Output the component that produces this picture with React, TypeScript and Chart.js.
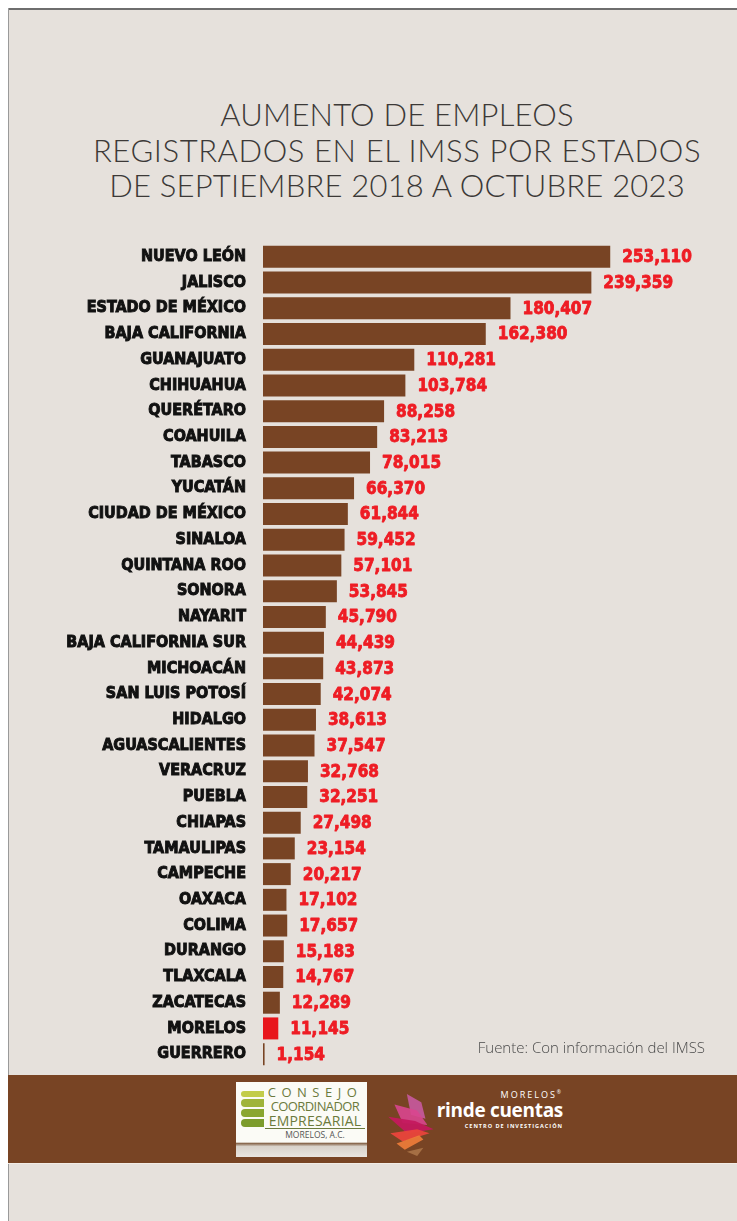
import React, { useEffect, useRef } from "react";
import { Chart, registerables } from "chart.js";

Chart.register(...registerables);

const states = [
  "NUEVO LEÓN", "JALISCO", "ESTADO DE MÉXICO", "BAJA CALIFORNIA", "GUANAJUATO",
  "CHIHUAHUA", "QUERÉTARO", "COAHUILA", "TABASCO", "YUCATÁN",
  "CIUDAD DE MÉXICO", "SINALOA", "QUINTANA ROO", "SONORA", "NAYARIT",
  "BAJA CALIFORNIA SUR", "MICHOACÁN", "SAN LUIS POTOSÍ", "HIDALGO", "AGUASCALIENTES",
  "VERACRUZ", "PUEBLA", "CHIAPAS", "TAMAULIPAS", "CAMPECHE",
  "OAXACA", "COLIMA", "DURANGO", "TLAXCALA", "ZACATECAS",
  "MORELOS", "GUERRERO",
];

const empleos = [
  253110, 239359, 180407, 162380, 110281,
  103784, 88258, 83213, 78015, 66370,
  61844, 59452, 57101, 53845, 45790,
  44439, 43873, 42074, 38613, 37547,
  32768, 32251, 27498, 23154, 20217,
  17102, 17657, 15183, 14767, 12289,
  11145, 1154,
];

const highlighted = "MORELOS";

const titleLines = [
  "AUMENTO DE EMPLEOS",
  "REGISTRADOS EN EL IMSS POR ESTADOS",
  "DE SEPTIEMBRE 2018 A OCTUBRE 2023",
];

const sourceText = "Fuente: Con información del IMSS";

const BROWN = "#784424";
const RED = "#ee1c24";
const BAR_RED = "#e8161c";

const valueLabelPlugin = {
  id: "valueLabels",
  afterDatasetsDraw(chart: any) {
    const ctx = chart.ctx;
    const meta = chart.getDatasetMeta(0);
    ctx.save();
    ctx.font = "bold 17px 'DejaVu Sans Condensed', 'DejaVu Sans', sans-serif";
    ctx.fillStyle = RED;
    ctx.strokeStyle = RED;
    ctx.lineWidth = 0.8;
    ctx.lineJoin = "round";
    ctx.textAlign = "left";
    ctx.textBaseline = "middle";
    meta.data.forEach((el: any, i: number) => {
      const v = chart.data.datasets[0].data[i] as number;
      const t = v.toLocaleString("en-US");
      ctx.strokeText(t, el.x + 12, el.y + 1);
      ctx.fillText(t, el.x + 12, el.y + 1);
    });
    ctx.restore();
  },
};

function BarChart() {
  const ref = useRef<HTMLCanvasElement | null>(null);
  useEffect(() => {
    if (!ref.current) return;
    const chart = new Chart(ref.current, {
      type: "bar",
      data: {
        labels: states,
        datasets: [
          {
            data: empleos,
            backgroundColor: states.map((s) => (s === highlighted ? BAR_RED : BROWN)),
            borderWidth: 0,
            barPercentage: 0.855,
            categoryPercentage: 1,
          },
        ],
      },
      options: {
        responsive: false,
        animation: false,
        indexAxis: "y",
        layout: { padding: { top: 236, bottom: 8, left: 0, right: 35 } },
        plugins: {
          legend: { display: false },
          tooltip: { enabled: false },
          title: { display: false },
        },
        scales: {
          x: { display: false, min: 0, max: 320000 },
          y: {
            grid: { display: false, drawTicks: false },
            border: { display: false },
            ticks: {
              padding: 17,
              color: "#111111",
              textStrokeColor: "#111111",
              textStrokeWidth: 0.9,
              font: {
                family: "'DejaVu Sans Condensed', 'DejaVu Sans', sans-serif",
                weight: "bold",
                size: 16,
              },
            },
            afterFit: (s: any) => {
              s.width = 255;
              s.paddingTop = 0;
              s.paddingBottom = 0;
            },
          },
        },
      },
      plugins: [valueLabelPlugin],
    } as any);
    return () => chart.destroy();
  }, []);
  return (
    <canvas
      ref={ref}
      width={729}
      height={1067}
      style={{ position: "absolute", left: 0, top: 0, width: 729, height: 1067 }}
    />
  );
}

function Flower() {
  return (
    <svg width="52" height="66" viewBox="0 0 50 64" style={{ position: "absolute", left: 0, top: 0 }}>
      <polygon points="20,2 34,10 38,26 24,22" fill="#c85aa0" opacity="0.9" />
      <polygon points="8,12 30,18 40,32 16,30" fill="#d9468f" opacity="0.9" />
      <polygon points="2,24 28,28 46,36 20,40" fill="#c4195e" opacity="0.95" />
      <polygon points="4,40 30,36 42,40 16,48" fill="#e9443c" opacity="0.95" />
      <polygon points="10,50 32,42 36,46 18,56" fill="#f07d3a" opacity="0.9" />
      <polygon points="20,58 36,54 30,62" fill="#b07a4c" opacity="0.8" />
    </svg>
  );
}

export default function App() {
  useEffect(() => {
    document.documentElement.style.overflow = "hidden";
    document.body.style.overflow = "hidden";
  }, []);
  return (
    <div
      style={{
        position: "absolute",
        left: 8,
        top: 8,
        width: 729,
        height: 1213,
        background: "#e6e1dc",
        overflow: "hidden",
      }}
    >
      <div style={{ position: "absolute", left: 0, top: 0, right: 0, height: 2, background: "#6e6e6e" }} />
      <div style={{ position: "absolute", left: 0, top: 0, bottom: 0, width: 1, background: "#9a9a9a" }} />
      <div
        style={{
          position: "absolute",
          left: -11,
          width: 800,
          top: 89,
          textAlign: "center",
          fontFamily: "Lato, 'Open Sans', sans-serif",
          fontWeight: 300,
          fontSize: 31,
          lineHeight: "35.5px",
          color: "#3c3937",
        }}
      >
        {titleLines.map((l, i) => (
          <div key={l} style={{ letterSpacing: i === 1 ? 0.6 : 0.2 }}>{l}</div>
        ))}
      </div>
      <BarChart />
      <div
        style={{
          position: "absolute",
          right: 32,
          top: 1029,
          fontFamily: "'Open Sans', sans-serif",
          fontWeight: 300,
          fontSize: 15,
          color: "#4a4a4a",
          whiteSpace: "nowrap",
        }}
      >
        {sourceText}
      </div>
      <div
        style={{
          position: "absolute",
          left: 0,
          right: 0,
          top: 1067,
          height: 88,
          background: BROWN,
          borderBottom: "1px solid #f2ece6",
        }}
      >
        <div
          style={{
            position: "absolute",
            left: 228,
            top: 7,
            width: 131,
            height: 75,
            background: "linear-gradient(#fbfbf6 0%, #fbfbf6 80%, #8a6a50 82%, #d8d2ca 86%, #e9e5e0 100%)",
          }}
        >
          <div style={{ position: "absolute", left: 5, top: 9, width: 23, height: 6, background: "#c2cc4a", borderRadius: "6px 0 0 6px" }} />
          <div style={{ position: "absolute", left: 5, top: 17, width: 23, height: 8, background: "#9fb43a", borderRadius: "6px 0 0 6px" }} />
          <div style={{ position: "absolute", left: 5, top: 27, width: 23, height: 8, background: "#8aa631", borderRadius: "6px 0 0 6px" }} />
          <div style={{ position: "absolute", left: 5, top: 37, width: 23, height: 8, background: "#7c9c2c", borderRadius: "6px 0 0 6px" }} />
          <div
            style={{
              position: "absolute",
              left: 29,
              top: 3,
              width: 100,
              fontFamily: "'Open Sans', sans-serif",
              color: "#6b7a3c",
              textAlign: "center",
              lineHeight: "14px",
            }}
          >
            <div style={{ fontSize: 13, letterSpacing: 5.5 }}>CONSEJO</div>
            <div style={{ fontSize: 13, letterSpacing: -0.6 }}>COORDINADOR</div>
            <div style={{ fontSize: 14, letterSpacing: 0.2, borderBottom: "1px solid #6b7a3c", lineHeight: "15px" }}>EMPRESARIAL</div>
            <div style={{ fontSize: 8.5, color: "#555", lineHeight: "11px" }}>MORELOS, A.C.</div>
          </div>
        </div>
        <div style={{ position: "absolute", left: 378, top: 17, width: 52, height: 66 }}>
          <Flower />
        </div>
        <div
          style={{
            position: "absolute",
            left: 420,
            top: 12,
            width: 135,
            textAlign: "right",
            color: "#ffffff",
            fontFamily: "'Open Sans', sans-serif",
          }}
        >
          <div style={{ fontSize: 9, letterSpacing: 2, lineHeight: "11px" }}>
            MORELOS<sup style={{ fontSize: 5 }}>®</sup>
          </div>
          <div style={{ fontSize: 19, fontWeight: 700, lineHeight: "20px", letterSpacing: -0.3 }}>rinde cuentas</div>
          <div style={{ fontSize: 5.5, fontWeight: 700, letterSpacing: 1, lineHeight: "12px" }}>
            CENTRO DE INVESTIGACIÓN
          </div>
        </div>
      </div>
    </div>
  );
}
